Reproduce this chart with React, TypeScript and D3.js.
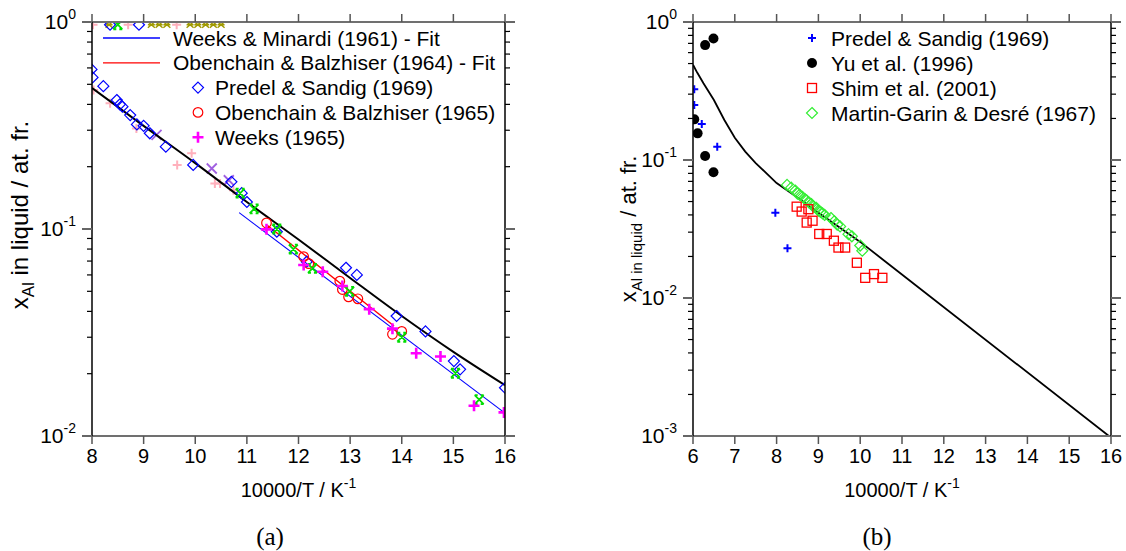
import React from 'react';
import * as d3 from 'd3';

const W = 1126, H = 551;

// ---------- Panel (a) ----------
const fitA: [number, number][] = [[8,0.48],[9,0.315],[10,0.208],[11,0.135],[12,0.089],[13,0.058],[14,0.038],[15,0.0255],[16,0.0176]];
const weeksMinardiFit: [number, number][] = [[10.85,0.12],[16,0.0129]];
const obenchainFit: [number, number][] = [[11.4,0.104],[13.85,0.034]];
const predelA: [number, number][] = [[7.99,0.59],[8.01,0.54],[8.22,0.49],[8.48,0.42],[8.54,0.40],[8.59,0.39],[8.74,0.355],[8.87,0.32],[9.0,0.315],[9.12,0.29],[9.43,0.25],[9.96,0.204],[10.7,0.169],[10.9,0.149],[11.0,0.135],[11.58,0.097],[12.16,0.0695],[12.92,0.065],[13.13,0.06],[13.9,0.038],[14.46,0.032],[15.01,0.023],[15.13,0.021],[16.0,0.0171],[8.35,0.97],[8.91,0.97]];
const obenchainA: [number, number][] = [[11.38,0.107],[12.1,0.0735],[12.2,0.068],[12.8,0.056],[12.85,0.051],[12.97,0.047],[13.15,0.046],[13.82,0.031],[14.0,0.032]];
const weeksA: [number, number][] = [[11.38,0.0996],[12.1,0.067],[12.47,0.0622],[12.85,0.053],[13.37,0.041],[13.82,0.033],[14.28,0.0251],[14.75,0.0242],[15.4,0.014],[15.98,0.013]];
const greenA: [number, number][] = [[10.87,0.149],[11.14,0.125],[11.58,0.1],[11.9,0.08],[12.27,0.0645],[12.99,0.05],[14.0,0.030],[15.04,0.0201],[15.5,0.015],[8.5,0.97]];
const pinkA: [number, number][] = [[8.03,0.469],[8.35,0.405],[8.86,0.306],[9.93,0.232],[9.65,0.204],[10.38,0.166],[10.48,0.166],[10.74,0.154],[8.02,0.97],[8.7,0.97],[9.64,0.97]];
const purpleA: [number, number][] = [[9.25,0.285],[10.32,0.196],[10.65,0.172]];
const oliveA: [number, number][] = [[8.33,0.97],[9.15,0.97],[9.3,0.97],[9.45,0.97],[9.9,0.97],[10.05,0.97],[10.2,0.97],[10.35,0.97],[10.5,0.97]];

// ---------- Panel (b) ----------
const fitB: [number, number][] = [[6.0,0.49],[6.1,0.43],[6.25,0.36],[6.5,0.272],[6.75,0.195],[7.0,0.145],[7.25,0.115],[7.5,0.095],[8.0,0.068],[8.5,0.0535],[9.0,0.0415],[9.5,0.0325],[10.0,0.0255],[10.6,0.0184],[15.95,0.001]];
const predelB: [number, number][] = [[6.03,0.325],[6.03,0.25],[6.21,0.182],[6.58,0.125],[7.97,0.0415],[8.26,0.0229]];
const yuB: [number, number][] = [[6.03,0.197],[6.11,0.156],[6.29,0.68],[6.29,0.107],[6.49,0.76],[6.49,0.0815]];
const shimB: [number, number][] = [[8.48,0.0459],[8.6,0.0423],[8.76,0.044],[8.72,0.0352],[8.86,0.0363],[9.02,0.0291],[9.2,0.0291],[9.37,0.026],[9.48,0.0232],[9.64,0.0232],[9.92,0.018],[10.12,0.014],[10.33,0.0149],[10.53,0.014]];
const martinB: [number, number][] = [[8.25,0.066],[8.35,0.063],[8.45,0.06],[8.5,0.057],[8.55,0.056],[8.62,0.054],[8.68,0.052],[8.72,0.051],[8.78,0.049],[8.83,0.048],[8.88,0.046],[8.95,0.045],[9.0,0.043],[9.05,0.042],[9.1,0.041],[9.15,0.04],[9.3,0.038],[9.38,0.036],[9.45,0.034],[9.52,0.033],[9.72,0.029],[9.8,0.028],[10.0,0.024],[10.05,0.022]];

const xTicksA = [8,9,10,11,12,13,14,15,16];
const xTicksB = [6,7,8,9,10,11,12,13,14,15,16];
const yDecA = [0, -1, -2];
const yDecB = [0, -1, -2, -3];

const legendA = [
  { kind: 'line', color: '#0000ff', label: 'Weeks & Minardi (1961) - Fit' },
  { kind: 'line', color: '#ff0000', label: 'Obenchain & Balzhiser (1964) - Fit' },
  { kind: 'diamond', color: '#0000ff', label: 'Predel & Sandig (1969)' },
  { kind: 'circle', color: '#ff0000', label: 'Obenchain & Balzhiser (1965)' },
  { kind: 'plusBold', color: '#ff00ff', label: 'Weeks (1965)' },
];
const legendB = [
  { kind: 'plus', color: '#0000ff', label: 'Predel & Sandig (1969)' },
  { kind: 'dot', color: '#000000', label: 'Yu et al. (1996)' },
  { kind: 'square', color: '#ff0000', label: 'Shim et al. (2001)' },
  { kind: 'diamondG', color: '#33ee33', label: 'Martin-Garin & Desré (1967)' },
];

const FONT = 'Liberation Sans, Arial, Helvetica, sans-serif';

function Marker({ kind, x, y, color }: { kind: string; x: number; y: number; color: string }) {
  switch (kind) {
    case 'diamond':
    case 'diamondG':
      return <path d={`M${x},${y-5.5}L${x+5.5},${y}L${x},${y+5.5}L${x-5.5},${y}Z`} fill="none" stroke={color} strokeWidth={1.2} />;
    case 'circle':
      return <circle cx={x} cy={y} r={4.8} fill="none" stroke={color} strokeWidth={1.2} />;
    case 'plusBold':
      return <path d={`M${x-5.5},${y}H${x+5.5}M${x},${y-5.5}V${y+5.5}`} stroke={color} strokeWidth={2.6} />;
    case 'plus':
      return <path d={`M${x-4},${y}H${x+4}M${x},${y-4}V${y+4}`} stroke={color} strokeWidth={2} />;
    case 'pink':
      return <path d={`M${x-4.5},${y}H${x+4.5}M${x},${y-4.5}V${y+4.5}`} stroke={color} strokeWidth={2} />;
    case 'cross':
      return <path d={`M${x-5},${y-5}L${x+5},${y+5}M${x-5},${y+5}L${x+5},${y-5}`} stroke={color} strokeWidth={1.8} />;
    case 'olive':
      return <path d={`M${x-3.5},${y-3}L${x+3.5},${y+3}M${x-3.5},${y+3}L${x+3.5},${y-3}M${x-3.5},${y}H${x+3.5}`} stroke={color} strokeWidth={1.5} />;
    case 'greenStar':
      return <path d={`M${x-4.5},${y-4.5}L${x+4.5},${y+4.5}M${x-4.5},${y+4.5}L${x+4.5},${y-4.5}M${x-4.5},${y-4.5}H${x-1.5}M${x+1.5},${y-4.5}H${x+4.5}M${x-4.5},${y+4.5}H${x-1.5}M${x+1.5},${y+4.5}H${x+4.5}`} stroke={color} strokeWidth={1.8} />;
    case 'dot':
      return <circle cx={x} cy={y} r={5} fill={color} />;
    case 'square':
      return <rect x={x-4.5} y={y-4.5} width={9} height={9} fill="none" stroke={color} strokeWidth={1.3} />;
    default:
      return null;
  }
}

function Panel({ id, x0, x1, xDomain, yDomain, xTicks, yDecs, children, ylabelX, ylabelY, ylabelSize, subAll }: any) {
  const xs = d3.scaleLinear().domain(xDomain).range([x0, x1]);
  const ys = d3.scaleLog().domain(yDomain).range([436, 22]);
  const top = 22, bot = 436;
  const minors: number[] = [];
  yDecs.forEach((d: number) => {
    if (d === yDecs[yDecs.length - 1]) return;
    for (let k = 2; k <= 9; k++) minors.push(k * Math.pow(10, d - 1));
  });
  const cx = (x0 + x1) / 2;
  const subSize = Math.round(ylabelSize * 0.7);
  return (
    <g>
      <defs>
        <clipPath id={`clip-${id}`}><rect x={x0} y={top} width={x1 - x0} height={bot - top} /></clipPath>
      </defs>
      <g clipPath={`url(#clip-${id})`}>{children(xs, ys)}</g>
      <line x1={x0 - 1} x2={x1 + 1} y1={top} y2={top} stroke="#707070" strokeWidth={2} />
      <line x1={x0 - 1} x2={x1 + 1} y1={bot} y2={bot} stroke="#707070" strokeWidth={2} />
      <line x1={x0} x2={x0} y1={top} y2={bot} stroke="#000" strokeWidth={1.5} />
      <line x1={x1} x2={x1} y1={top} y2={bot} stroke="#000" strokeWidth={1.5} />
      {xTicks.map((t: number) => (
        <g key={`xt${t}`}>
          <line x1={xs(t)} x2={xs(t)} y1={top} y2={top - 8} stroke="#555" strokeWidth={1.5} />
          <line x1={xs(t)} x2={xs(t)} y1={bot} y2={bot + 8} stroke="#555" strokeWidth={1.5} />
          <text x={xs(t)} y={bot + 27} textAnchor="middle" fontSize={20} fontFamily={FONT}>{t}</text>
        </g>
      ))}
      {yDecs.map((d: number) => {
        const yy = ys(Math.pow(10, d));
        return (
          <g key={`yd${d}`}>
            <line x1={x0} x2={x0 - 10} y1={yy} y2={yy} stroke="#666" strokeWidth={2} />
            <line x1={x1} x2={x1 + 10} y1={yy} y2={yy} stroke="#666" strokeWidth={2} />
            <text x={x0 - 16} y={yy + 7} textAnchor="end" fontSize={21} fontFamily={FONT}>10<tspan dy={-10} fontSize={14}>{d}</tspan></text>
          </g>
        );
      })}
      {minors.map((m, i) => (
        <g key={`ym${i}`}>
          <line x1={x0} x2={x0 - 5} y1={ys(m)} y2={ys(m)} stroke="#000" strokeWidth={1.2} />
          <line x1={x1} x2={x1 + 5} y1={ys(m)} y2={ys(m)} stroke="#000" strokeWidth={1.2} />
        </g>
      ))}
      <text x={cx} y={bot + 61} textAnchor="middle" fontSize={20} fontFamily={FONT}>10000/T / K<tspan dy={-9} fontSize={14}>-1</tspan></text>
      <text transform={`translate(${ylabelX},${ylabelY}) rotate(-90)`} textAnchor="middle" fontSize={ylabelSize} fontFamily={FONT}>
        x<tspan dy={6} fontSize={subSize}>{subAll ? 'Al in liquid' : 'Al'}</tspan><tspan dy={-6} fontSize={ylabelSize}>{subAll ? ' / at. fr.' : ' in liquid / at. fr.'}</tspan>
      </text>
    </g>
  );
}

export default function App() {
  const lineGen = (xs: any, ys: any) => d3.line<[number, number]>().x(d => xs(d[0])).y(d => ys(d[1]));
  const lineGenM = (xs: any, ys: any) => d3.line<[number, number]>().x(d => xs(d[0])).y(d => ys(d[1])).curve(d3.curveMonotoneX);
  const pts = (data: [number, number][], kind: string, color: string, xs: any, ys: any, key: string) =>
    data.map((d, i) => <Marker key={`${key}${i}`} kind={kind} x={xs(d[0])} y={ys(d[1])} color={color} />);

  return (
    <svg width={W} height={H} style={{ position: 'absolute', left: 0, top: 0, background: '#fff' }}>
      <rect width={W} height={H} fill="#fff" />
      <Panel id="a" x0={92} x1={505} xDomain={[8, 16]} yDomain={[0.01, 1]} xTicks={xTicksA} yDecs={yDecA} ylabelX={28} ylabelY={215} ylabelSize={24} subAll={false}>
        {(xs: any, ys: any) => (
          <g>
            {pts(oliveA, 'olive', '#a09a00', xs, ys, 'ol')}
            {pts(pinkA, 'pink', '#ffb0bc', xs, ys, 'pk')}
            {pts(purpleA, 'cross', '#a060e0', xs, ys, 'pu')}
            <path d={lineGenM(xs, ys)(fitA) || ''} fill="none" stroke="#000" strokeWidth={2} />
            <path d={lineGen(xs, ys)(weeksMinardiFit) || ''} fill="none" stroke="#0000ff" strokeWidth={1.1} />
            <path d={lineGen(xs, ys)(obenchainFit) || ''} fill="none" stroke="#ff0000" strokeWidth={1.4} />
            {pts(predelA, 'diamond', '#0000ff', xs, ys, 'pd')}
            {pts(obenchainA, 'circle', '#ff0000', xs, ys, 'ob')}
            {pts(greenA, 'greenStar', '#00dd00', xs, ys, 'gr')}
            {pts(weeksA, 'plusBold', '#ff00ff', xs, ys, 'wk')}
          </g>
        )}
      </Panel>
      <Panel id="b" x0={693} x1={1111} xDomain={[6, 16]} yDomain={[0.001, 1]} xTicks={xTicksB} yDecs={yDecB} ylabelX={636} ylabelY={229} ylabelSize={22} subAll={true}>
        {(xs: any, ys: any) => (
          <g>
            <path d={lineGen(xs, ys)(fitB) || ''} fill="none" stroke="#000" strokeWidth={1.8} />
            {pts(martinB, 'diamondG', '#33ee33', xs, ys, 'mg')}
            {pts(shimB, 'square', '#ff0000', xs, ys, 'sh')}
            {pts(yuB, 'dot', '#000', xs, ys, 'yu')}
            {pts(predelB, 'plus', '#0000ff', xs, ys, 'pb')}
          </g>
        )}
      </Panel>
      {legendA.map((l, i) => {
        const y = 38 + i * 24.8;
        return (
          <g key={`la${i}`}>
            {l.kind === 'line'
              ? <line x1={103} x2={160} y1={y} y2={y} stroke={l.color} strokeWidth={1.3} />
              : <Marker kind={l.kind} x={198} y={y} color={l.color} />}
            <text x={l.kind === 'line' ? 173 : 215} y={y + 7.5} fontSize={21} fontFamily={FONT}>{l.label}</text>
          </g>
        );
      })}
      {legendB.map((l, i) => {
        const y = 38 + i * 25;
        return (
          <g key={`lb${i}`}>
            <Marker kind={l.kind} x={812} y={y} color={l.color} />
            <text x={831} y={y + 7.5} fontSize={21} fontFamily={FONT}>{l.label}</text>
          </g>
        );
      })}
      <text x={270} y={545} textAnchor="middle" fontSize={25} fontFamily="Liberation Serif, DejaVu Serif, serif">(a)</text>
      <text x={877} y={545} textAnchor="middle" fontSize={25} fontFamily="Liberation Serif, DejaVu Serif, serif">(b)</text>
    </svg>
  );
}
